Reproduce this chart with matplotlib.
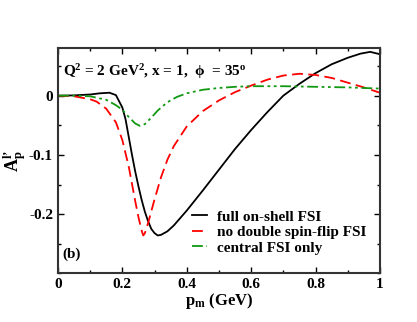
import numpy as np
import matplotlib
matplotlib.use('Agg')
import matplotlib.pyplot as plt
from matplotlib.ticker import MultipleLocator

plt.rcParams['font.family'] = ['Liberation Serif', 'DejaVu Serif']
plt.rcParams['font.weight'] = 'bold'
plt.rcParams['mathtext.fontset'] = 'custom'
plt.rcParams['mathtext.rm'] = 'Liberation Serif:bold'
plt.rcParams['mathtext.it'] = 'Liberation Serif:bold'
plt.rcParams['mathtext.bf'] = 'Liberation Serif:bold'
plt.rcParams['mathtext.default'] = 'bf'

# full on-shell FSI
x_full = [0, 0.05, 0.1, 0.13, 0.16, 0.18, 0.2, 0.21, 0.22, 0.23, 0.24, 0.25, 0.26, 0.27,
          0.28, 0.29, 0.3, 0.31, 0.32, 0.34, 0.36, 0.4, 0.45, 0.5, 0.55, 0.6, 0.65, 0.7,
          0.75, 0.8, 0.85, 0.9, 0.94, 0.97, 1.0]
y_full = [0, 0.0005, 0.002, 0.004, 0.005, 0.001, -0.02, -0.04, -0.07, -0.1, -0.128, -0.153,
          -0.176, -0.196, -0.212, -0.225, -0.232, -0.236, -0.235, -0.229, -0.219, -0.194,
          -0.16, -0.125, -0.09, -0.058, -0.028, 0.0, 0.02, 0.038, 0.053, 0.064, 0.071, 0.074, 0.07]

# no double spin-flip FSI
x_nodsf = [0, 0.05, 0.1, 0.12, 0.15, 0.18, 0.2, 0.22, 0.24, 0.25, 0.26, 0.265, 0.27, 0.28,
           0.29, 0.3, 0.32, 0.34, 0.36, 0.4, 0.45, 0.5, 0.55, 0.6, 0.65, 0.7, 0.75, 0.8,
           0.85, 0.9, 0.95, 1.0]
y_nodsf = [0, -0.001, -0.006, -0.01, -0.022, -0.045, -0.075, -0.12, -0.178, -0.205, -0.228,
           -0.236, -0.232, -0.215, -0.195, -0.175, -0.138, -0.108, -0.085, -0.052, -0.026,
           -0.008, 0.006, 0.017, 0.027, 0.034, 0.037, 0.035, 0.03, 0.022, 0.014, 0.005]

# central FSI only
x_central = [0, 0.05, 0.1, 0.15, 0.18, 0.2, 0.22, 0.24, 0.255, 0.27, 0.29, 0.31, 0.34, 0.37,
             0.4, 0.45, 0.5, 0.55, 0.6, 0.7, 0.8, 0.9, 1.0]
y_central = [0, 0, -0.001, -0.007, -0.016, -0.024, -0.036, -0.047, -0.051, -0.048, -0.037,
             -0.025, -0.011, -0.002, 0.004, 0.01, 0.013, 0.015, 0.016, 0.016, 0.015, 0.014, 0.012]

x_ticks = [0, 0.2, 0.4, 0.6, 0.8, 1.0]
x_ticklabels = ['0', '0.2', '0.4', '0.6', '0.8', '1']
y_ticks = [-0.2, -0.1, 0]
y_ticklabels = ['-0.2', '-0.1', '0']

fig = plt.figure(figsize=(4.17, 3.22), dpi=100)
ax = fig.add_axes([0.139, 0.151, 0.772, 0.699])

ax.plot(x_full, y_full, color='black', lw=1.3, label='full on-shell FSI')
ax.plot(x_nodsf, y_nodsf, color='red', lw=1.3, dashes=(6, 3), label='no double spin-flip FSI')
ax.plot(x_central, y_central, color='#119911', lw=1.3, dashes=(6, 2, 1.5, 2, 1.5, 2),
        label='central FSI only')

ax.set_xlim(0, 1)
ax.set_ylim(-0.3, 0.08)
ax.xaxis.set_minor_locator(MultipleLocator(0.1))
ax.yaxis.set_minor_locator(MultipleLocator(0.05))
ax.set_xticks(x_ticks)
ax.set_xticklabels(x_ticklabels, fontweight='bold')
ax.set_yticks(y_ticks)
ax.set_yticklabels(y_ticklabels, fontweight='bold')
ax.tick_params(which='both', direction='in', top=True, right=True, labelsize=11, width=1)
ax.tick_params(which='major', length=4)
ax.tick_params(which='minor', length=2.5)
for s in ax.spines.values():
    s.set_linewidth(1.5)
    s.set_color('#333333')

ax.set_xlabel(r'$p_m$ (GeV)', fontsize=12, labelpad=0, fontweight='bold')
ax.set_ylabel('$A_p^{l\u2019}$', fontsize=13, labelpad=0)

ax.text(0.015, 0.895, '$Q^2$ = 2 GeV$^2$, x = 1,  $\\phi$  = 35$^o$',
        transform=ax.transAxes, fontsize=11, fontweight='bold', va='center')
ax.text(0.015, 0.07, '(b)', transform=ax.transAxes, fontsize=11, fontweight='bold')

leg = ax.legend(loc='lower right', bbox_to_anchor=(0.99, 0.035), frameon=False,
                prop={'size': 11, 'weight': 'bold'}, handlelength=1.0,
                handletextpad=0.6, labelspacing=0.12, borderaxespad=0.3)

fig.savefig('out.png', dpi=100)
